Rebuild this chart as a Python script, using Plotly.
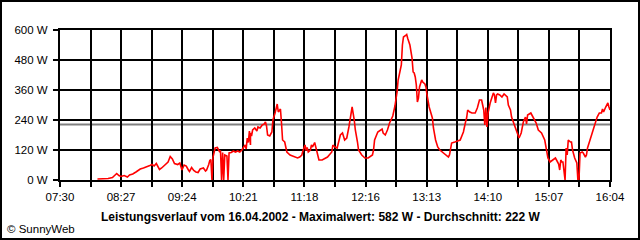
import numpy as np
import plotly.graph_objects as go

# ---- data ----
times = ["08:05","08:07","08:12","08:15","08:19","08:21","08:23","08:25","08:27","08:30",
"08:33","08:35","08:38","08:41","08:45","08:48","08:51","08:54","08:56","08:58",
"09:00","09:02","09:03","09:05","09:08","09:11","09:13","09:15","09:17","09:20",
"09:22","09:24","09:26","09:28","09:30","09:31","09:33","09:35","09:37","09:39",
"09:41","09:44","09:46","09:47","09:49","09:50","09:51","09:52","09:53","09:55",
"09:57","09:59","10:00","10:01","10:02","10:03","10:04","10:06","10:07","10:08",
"10:10","10:12","10:14","10:16","10:18","10:20","10:22","10:23","10:24","10:25",
"10:26","10:27","10:28","10:28","10:29","10:30","10:32","10:34","10:35","10:37",
"10:39","10:41","10:42","10:43","10:44","10:46","10:48","10:49","10:51","10:53",
"10:54","10:56","10:57","10:58","11:00","11:02","11:05","11:08","11:11","11:12",
"11:14","11:16","11:17","11:19","11:20","11:21","11:22","11:24","11:25","11:26",
"11:28","11:30","11:32","11:35","11:38","11:40","11:44","11:45","11:47","11:49",
"11:52","11:54","11:56","11:58","12:00","12:02","12:03","12:05","12:06","12:08",
"12:09","12:12","12:15","12:18","12:22","12:23","12:24","12:27","12:29","12:31",
"12:32","12:34","12:36","12:38","12:41","12:43","12:45","12:46","12:48","12:49",
"12:50","12:51","12:53","12:54","12:55","12:57","12:59","13:00","13:01","13:02",
"13:03","13:04","13:05","13:06","13:08","13:09","13:11","13:12","13:13","13:15",
"13:18","13:19","13:21","13:23","13:25","13:28","13:30","13:33","13:34","13:36",
"13:39","13:44","13:47","13:48","13:49","13:50","13:51","13:53","13:55","13:58",
"14:00","14:02","14:04","14:05","14:06","14:07","14:08","14:09","14:10","14:12",
"14:14","14:15","14:16","14:17","14:18","14:19","14:21","14:23","14:25","14:28",
"14:29","14:31","14:32","14:34","14:37","14:39","14:41","14:43","14:45","14:46",
"14:47","14:50","14:52","14:55","14:57","15:00","15:03","15:05","15:06","15:08",
"15:11","15:13","15:15","15:16","15:17","15:18","15:19","15:20","15:22","15:23",
"15:24","15:25","15:27","15:28","15:29","15:31","15:33","15:34","15:35","15:36",
"15:38","15:39","15:41","15:42","15:43","15:46","15:48","15:50","15:52","15:54",
"15:56","15:57","15:58","16:00","16:02","16:03","16:04"]

watts = [4,4,4,6,10,20,26,18,14,18,
12,20,24,32,44,48,52,58,62,56,
66,52,42,48,60,72,94,84,66,62,
68,40,60,56,40,34,50,38,32,30,
44,48,36,40,62,78,82,0,92,128,
130,114,118,0,110,0,100,96,0,108,
110,116,112,116,112,120,134,140,124,168,
150,196,140,188,176,200,208,196,212,208,
220,224,232,216,180,176,192,240,268,304,
272,284,228,160,152,112,100,96,92,88,
92,100,116,140,118,130,112,120,140,132,
150,120,80,80,88,92,112,140,132,128,
180,188,160,168,212,280,292,240,200,152,
120,100,88,88,100,120,160,192,200,204,
188,180,200,228,256,296,352,400,440,460,
540,572,578,582,566,540,488,432,428,412,
380,312,328,372,400,392,384,372,340,292,
248,208,160,132,120,108,100,92,100,148,
152,160,192,220,232,248,280,272,268,268,
288,320,320,300,280,220,290,212,268,308,
332,348,340,308,340,344,340,332,344,332,
300,280,252,228,192,168,188,232,252,224,
260,268,252,228,200,188,160,120,88,72,
80,88,72,64,40,80,72,72,0,128,
100,160,152,152,120,88,68,0,0,108,
112,108,92,100,128,168,192,228,252,268,
268,284,272,292,308,292,280]

x_labels = ["07:30","08:27","09:24","10:21","11:18","12:16","13:13","14:10","15:07","16:04"]
y_ticks = [0, 120, 240, 360, 480, 600]
y_labels = ["0 W", "120 W", "240 W", "360 W", "480 W", "600 W"]
avg_w = 222
max_w = 582
date_str = "16.04.2002"

def to_min(s):
    h, m = s.split(":")
    return int(h) * 60 + int(m)

tx = [to_min(t) for t in times]
t0, t1 = to_min(x_labels[0]), to_min(x_labels[-1])
tickvals = list(np.linspace(t0, t1, 2 * len(x_labels) - 1))
ticktext = []
for i in range(len(tickvals)):
    ticktext.append(x_labels[i // 2] if i % 2 == 0 else "")

W, H = 640, 240
L, R, T, B = 60, 30, 30, 60
pw, ph = W - L - R, H - T - B

def px(x):
    return (x - L) / pw

def py(y):
    return (H - B - y) / ph

FONT = "Liberation Sans, Arial, sans-serif"

fig = go.Figure()
fig.add_trace(go.Scatter(x=tx, y=watts, mode="lines",
                         line=dict(color="#ff0000", width=1.6),
                         hoverinfo="skip", showlegend=False))

fig.update_layout(
    width=W, height=H,
    margin=dict(l=L, r=R, t=T, b=B),
    paper_bgcolor="white", plot_bgcolor="white",
    font=dict(family=FONT, size=11, color="black"),
    showlegend=False,
    xaxis=dict(range=[t0, t1], tickvals=tickvals, ticktext=ticktext,
               showgrid=True, gridcolor="black", gridwidth=2,
               ticks="outside", ticklen=5, tickwidth=2, tickcolor="black",
               showline=True, linecolor="black", linewidth=2, mirror=True,
               zeroline=False, fixedrange=True, tickfont=dict(size=11.5)),
    yaxis=dict(range=[0, 600], tickvals=y_ticks, ticktext=y_labels,
               showgrid=True, gridcolor="black", gridwidth=2,
               ticks="outside", ticklen=5, tickwidth=2, tickcolor="black",
               showline=True, linecolor="black", linewidth=2, mirror=True,
               zeroline=False, fixedrange=True, tickfont=dict(size=11.5),
               ticklabelstandoff=3),
    shapes=[
        dict(type="line", xref="paper", yref="y", x0=0, x1=1, y0=avg_w, y1=avg_w,
             line=dict(color="#808080", width=2), layer="below"),
        dict(type="rect", xref="paper", yref="paper",
             x0=px(1), x1=px(639), y0=py(239), y1=py(1),
             line=dict(color="black", width=2), fillcolor="rgba(0,0,0,0)"),
    ],
    annotations=[
        dict(text="<b>Leistungsverlauf vom %s - Maximalwert: %d W - Durchschnitt: %d W</b>"
                  % (date_str, max_w, avg_w),
             xref="paper", yref="paper", x=px(320), y=py(217),
             xanchor="center", yanchor="middle", showarrow=False,
             font=dict(size=12, family=FONT)),
        dict(text="© SunnyWeb", xref="paper", yref="paper", x=px(5), y=py(229),
             xanchor="left", yanchor="middle", showarrow=False,
             font=dict(size=11.5, family=FONT)),
    ],
)

fig.write_html("out.html", config={"displayModeBar": False})
